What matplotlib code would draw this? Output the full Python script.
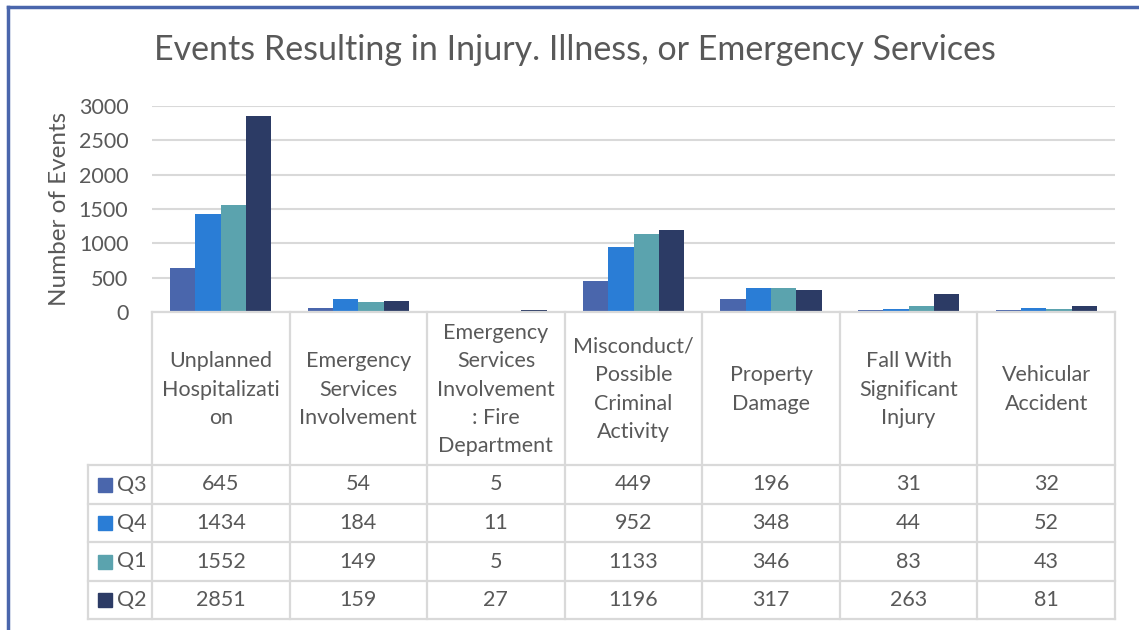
import matplotlib
matplotlib.use("Agg")
import matplotlib.pyplot as plt
from matplotlib.lines import Line2D
from matplotlib.patches import Rectangle
import numpy as np

categories = ["Unplanned\nHospitalizati\non", "Emergency\nServices\nInvolvement",
              "Emergency\nServices\nInvolvement\n: Fire\nDepartment",
              "Misconduct/\nPossible\nCriminal\nActivity", "Property\nDamage",
              "Fall With\nSignificant\nInjury", "Vehicular\nAccident"]
series_names = ["Q3", "Q4", "Q1", "Q2"]
q3 = [645, 54, 5, 449, 196, 31, 32]
q4 = [1434, 184, 11, 952, 348, 44, 52]
q1 = [1552, 149, 5, 1133, 346, 83, 43]
q2 = [2851, 159, 27, 1196, 317, 263, 81]
series = [q3, q4, q1, q2]
colors = ["#4A66AC", "#2A7DD6", "#5BA3AE", "#2C3B65"]
yticks = [0, 500, 1000, 1500, 2000, 2500, 3000]

W, H = 1139, 630
FONT = "Lato"
TXT = "#595959"
GRID = "#D9D9D9"
FS = 15.5

fig = plt.figure(figsize=(W / 100, H / 100), dpi=100)

def fx(px):
    return px / W

def fy(py):
    return 1 - py / H

left, right, top, bottom = 152, 1115, 106, 312
ax = fig.add_axes([fx(left), fy(bottom), fx(right - left), (bottom - top) / H])
n = len(categories)
x = np.arange(n)
bw = 0.184
for i, (vals, c) in enumerate(zip(series, colors)):
    ax.bar(x + (i - 1.5) * bw, vals, width=bw, color=c, zorder=3)
ax.set_xlim(-0.5, n - 0.5)
ax.set_ylim(0, 3000)
ax.set_yticks(yticks)
ax.set_yticklabels([str(t) for t in yticks], fontsize=FS, color=TXT, family=FONT)
ax.tick_params(axis="y", length=0, pad=17)
ax.set_xticks([])
for s in ax.spines.values():
    s.set_visible(False)
ax.grid(axis="y", color=GRID, linewidth=1.5, zorder=0)
ax.set_ylabel("Number of Events", fontsize=17.5, color=TXT, family=FONT, labelpad=6)

fig.text(fx(575), fy(50), "Events Resulting in Injury. Illness, or Emergency Services",
         ha="center", va="center", fontsize=24.5, color=TXT, family=FONT)

# table
colw = (right - left) / n
cols = [left + i * colw for i in range(n + 1)]
rows = [465, 504, 542, 581, 619]
legx = 88

def hline(x0, x1, y):
    fig.add_artist(Line2D([fx(x0), fx(x1)], [fy(y), fy(y)], color=GRID, linewidth=1.6))

def vline(xp, y0, y1):
    fig.add_artist(Line2D([fx(xp), fx(xp)], [fy(y0), fy(y1)], color=GRID, linewidth=1.6))

hline(left, right, bottom)
for r in rows:
    hline(legx, right, r)
for c in cols:
    vline(c, bottom, rows[-1])
vline(legx, rows[0], rows[-1])

for i, cat in enumerate(categories):
    fig.text(fx(cols[i] + colw / 2), fy((bottom + rows[0]) / 2 + 1), cat, ha="center", va="center",
             fontsize=FS, color=TXT, family=FONT, linespacing=1.53)

for j, (name, vals, c) in enumerate(zip(series_names, series, colors)):
    yc = (rows[j] + rows[j + 1]) / 2
    fig.add_artist(Rectangle((fx(98), fy(yc + 7)), 14 / W, 14 / H, color=c,
                             transform=fig.transFigure))
    fig.text(fx(116.5), fy(yc), name, ha="left", va="center", fontsize=FS, color=TXT, family=FONT)
    for i, v in enumerate(vals):
        fig.text(fx(cols[i] + colw / 2), fy(yc), str(v), ha="center", va="center",
                 fontsize=FS, color=TXT, family=FONT)

# outer border (top and left)
fig.add_artist(Line2D([fx(7.5), 1], [fy(6.5), fy(6.5)], color="#4A66AC", linewidth=2.5))
fig.add_artist(Line2D([fx(7.5), fx(7.5)], [fy(6.5), 0], color="#4A66AC", linewidth=2.5))

fig.savefig("out.png", dpi=100)
